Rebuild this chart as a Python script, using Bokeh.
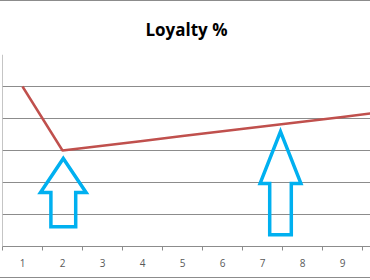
from bokeh.plotting import figure
from bokeh.models import FixedTicker, Title, Span
from bokeh.embed import file_html
from bokeh.resources import INLINE

# data
categories = [1, 2, 3, 4, 5, 6, 7, 8, 9, 10]
loyalty = [5.0, 3.0, 3.15, 3.3, 3.45, 3.6, 3.75, 3.9, 4.05, 4.2]
tick_labels = ["1", "2", "3", "4", "5", "6", "7", "8", "9", "10"]
grid_values = [0, 1, 2, 3, 4, 5, 6]
title_text = "Loyalty %"

# annotation arrows (data units): tip x, tip y, head base y, head half width, shaft half width, shaft bottom
arrow_tip_x = [2.02, 7.45]
arrow_tip_y = [2.75, 3.59]
arrow_head_y = [1.69, 1.97]
arrow_head_hw = [0.57, 0.51]
arrow_shaft_hw = [0.31, 0.27]
arrow_bottom_y = [0.62, 0.37]

p = figure(width=370, height=278, output_backend="svg", toolbar_location=None,
           x_range=(0.5, 9.7), y_range=(0, 6),
           min_border_left=2, min_border_right=0, min_border_top=53, min_border_bottom=33,
           styles={"border-top": "1px solid #8c8c8c", "border-bottom": "1px solid #8c8c8c"})
p.title = Title(text=title_text, align="center", text_font="Open Sans",
                text_font_size="17px", text_font_style="bold", text_color="#000000",
                standoff=28)
p.outline_line_color = None
p.background_fill_color = "white"
p.border_fill_color = "white"

p.xgrid.visible = False
p.yaxis.visible = False
p.ygrid.ticker = FixedTicker(ticks=grid_values)
p.ygrid.grid_line_color = "#8c8c8c"
p.ygrid.grid_line_width = 1

p.add_layout(Span(location=0.5, dimension="height", line_color="#8c8c8c", line_width=1))

p.xaxis.ticker = FixedTicker(ticks=categories,
                             minor_ticks=[c - 0.5 for c in categories] + [categories[-1] + 0.5])
p.xaxis.major_label_overrides = {c: t for c, t in zip(categories, tick_labels)}
p.xaxis.major_tick_out = 0
p.xaxis.major_tick_in = 0
p.xaxis.minor_tick_out = 4
p.xaxis.minor_tick_in = 0
p.xaxis.minor_tick_line_color = "#8c8c8c"
p.xaxis.axis_line_color = "#8c8c8c"
p.xaxis.major_label_text_font = "Open Sans"
p.xaxis.major_label_text_font_size = "10px"
p.xaxis.major_label_text_color = "#595959"
p.xaxis.major_label_standoff = 8

p.line(categories, loyalty, line_color="#C0504D", line_width=2.5)

xs, ys = [], []
for tx, ty, hy, hw, sw, by in zip(arrow_tip_x, arrow_tip_y, arrow_head_y,
                                   arrow_head_hw, arrow_shaft_hw, arrow_bottom_y):
    xs.append([tx, tx + hw, tx + sw, tx + sw, tx - sw, tx - sw, tx - hw])
    ys.append([ty, hy, hy, by, by, hy, hy])
p.patches(xs, ys, fill_color=None, line_color="#00B0F0", line_width=3.5, line_join="miter")

open("out.html", "w").write(file_html(p, INLINE))
